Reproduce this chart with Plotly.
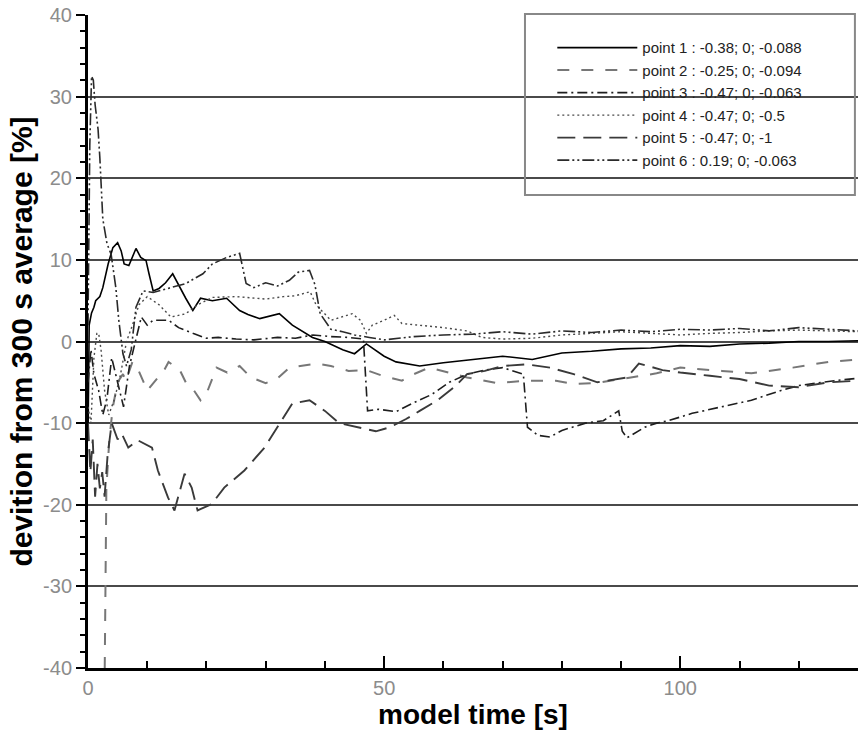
import plotly.graph_objects as go

# ---------------- data ----------------
labels = [
    "point 1 : -0.38; 0; -0.088",
    "point 2 : -0.25; 0; -0.094",
    "point 3 : -0.47; 0; -0.063",
    "point 4 : -0.47; 0; -0.5",
    "point 5 : -0.47; 0; -1",
    "point 6 : 0.19; 0; -0.063",
]

x1 = [0, 0.2, 0.6, 1.0, 1.3, 2.0, 2.5, 3.4, 4.2, 5.0, 5.6, 6.1, 6.9, 8.1, 8.9, 9.8, 10.3, 11.0, 12.0, 13.1,
      14.3, 15.3, 16.5, 17.7, 19.0, 21.0, 23.4, 25.6, 27.0, 29.0, 32.3, 34.5, 37.9, 40, 43, 45, 47, 50, 52,
      56, 60, 65, 70, 75, 80, 85, 90, 95, 100, 105, 110, 115, 120, 125, 130]
y1 = [-12, 2, 3.5, 4.2, 5, 5.5, 6.6, 9.5, 11.5, 12.1, 11.1, 9.5, 9.3, 11.4, 10.3, 9.9, 8.3, 6.2, 6.5, 7.2,
      8.3, 6.9, 5.3, 3.8, 5.3, 5.0, 5.3, 3.8, 3.3, 2.8, 3.4, 2.0, 0.5, 0, -1, -1.5, -0.3, -1.8, -2.5,
      -3, -2.6, -2.2, -1.8, -2.2, -1.4, -1.2, -0.9, -0.8, -0.5, -0.6, -0.3, -0.2, 0, 0, 0.1]

x2 = [2.75, 3.1, 3.6, 4.2, 5.0, 5.9, 6.4, 7.5, 8.5, 10, 11.7, 12.5, 13.6, 15.5, 16.5, 17.7, 19.0, 20.0,
      21.7, 23.5, 25.6, 27.5, 30, 32, 34, 36, 38.5, 41, 44, 47, 49.7, 53, 55, 57.6, 61, 64, 69, 74, 79,
      82, 85.7, 90, 96, 100, 104, 107, 112, 116, 119, 125, 130]
y2 = [-46, -18, -12, -8, -5, -4, -4.8, -2.5, -3.5, -6, -4.5, -4, -2.5, -3.5, -5, -5.8, -7.2, -6.4,
      -3.2, -3.8, -3, -4.4, -5.1, -4.5, -3.2, -3.0, -2.7, -3.0, -3.6, -3.5, -4.2, -4.8, -4.0, -3.2, -3.8,
      -4.4, -5.1, -4.8, -4.8, -5.2, -5.1, -4.6, -3.9, -3.2, -3.4, -3.6, -3.9, -3.5, -3.2, -2.5, -2.2]

x3 = [0, 0.5, 1, 1.8, 2.5, 3.2, 4, 5, 6, 7, 8, 9, 10, 11, 13.6, 15.3, 17.7, 19.9, 22, 25, 28, 32, 35,
      38, 41, 44, 46.5, 47.2, 49, 52, 55, 58, 61, 64, 67, 70, 73.5, 74.2, 76, 78, 80, 84, 87, 89.6, 90.2,
      91, 94, 96, 98, 102, 107, 112, 117, 120, 126, 130]
y3 = [-5, -1, -4, -6, -9, -7, -2, -5, -8, -3, 0, 3, 2, 2.6, 2.6, 1.7, 1.0, 0.4, 0.5, 0.3, 0.2, 0.5, 0.4,
      0.8, 0.6, 0.5, 0.3, -8.5, -8.3, -8.6, -7.5, -6.5, -5, -4, -3.5, -3.2, -4, -10.5, -11.5, -11.7,
      -10.9, -10, -9.7, -8.5, -11, -11.8, -10.5, -10, -9.7, -8.8, -8, -7.2, -6, -5.4, -4.8, -4.5]

x4 = [0, 0.5, 1.0, 1.5, 1.8, 2.2, 2.8, 3.5, 4.5, 5.5, 6.5, 7.5, 8.6, 10, 12, 14, 16.5, 18.5, 21, 25,
      30, 33, 35, 37.5, 38.5, 41, 44.6, 46, 47, 48, 50, 51.7, 53, 56, 60, 64, 66.5, 70, 75, 80, 85, 90,
      95, 100, 105, 110, 115, 120, 125, 130]
y4 = [-8, -10, -2, 1, 1, -1, -6, -9, -7, -4, 0, 2, 4.5, 5.5, 4.5, 3, 3.4, 4.5, 5.4, 5.5,
      5.2, 5.5, 5.6, 6.1, 4.5, 2.6, 3.4, 2.6, 1.0, 2.0, 2.6, 3.2, 2.2, 2.0, 1.7, 1.3, 0.5, 0.3, 0.4, 0.8,
      1.0, 1.2, 1.0, 0.8, 1.0, 1.1, 1.3, 1.4, 1.3, 1.2]

x5 = [0, 0.4, 0.8, 1.2, 1.6, 2.0, 2.4, 2.8, 3.3, 4, 5, 5.7, 6.8, 8.4, 10.8, 11.8, 13.5, 14.6, 16.3,
      17.5, 18.5, 20.9, 23, 26.4, 29.8, 32.7, 34.5, 37.4, 40, 42.4, 45, 48.6, 51, 53.7, 56, 59, 62, 64,
      67, 70, 74, 78, 82, 86, 91, 93, 97, 100, 105, 110, 115, 120, 125, 130]
y5 = [-10, -16, -12, -19, -15, -18, -16, -19, -14, -10, -12, -11.3, -13, -12.1, -13, -15.8, -19.1,
      -20.7, -16.2, -17.9, -20.7, -19.9, -17.9, -15.8, -13, -9.7, -7.6, -7.2, -8.5, -10, -10.4, -11,
      -10.5, -9.5, -8.5, -7.2, -5.5, -4, -3.6, -3, -2.8, -3.2, -4, -5, -4.4, -2.7, -3.5, -3.8, -4.2,
      -4.6, -5.4, -5.6, -5.0, -4.8]

x6 = [0, 0.3, 0.6, 0.9, 1.2, 1.7, 2.0, 2.5, 3.2, 3.9, 4.7, 5.2, 5.9, 6.5, 7.3, 8.1, 9.3, 11, 13.5,
      16.5, 19.4, 21, 23.4, 25.6, 26.7, 28, 30, 32, 34, 35.5, 37.4, 38.3, 39.2, 41, 43, 45, 47.5, 50,
      55, 60, 65, 70, 75, 80, 85, 90, 95, 100, 105, 110, 115, 120, 125, 130]
y6 = [2, 24, 32.5, 32, 29, 26, 22.5, 15, 12, 10.7, 6.6, 2.6, -1.5, -3, -1, 4.2, 6.2, 6, 6.5,
      7.1, 8.3, 9.5, 10.3, 10.8, 7.1, 6.6, 7.2, 6.8, 7.5, 8.5, 8.7, 7.0, 3.4, 1.5, 1.2, 0.8, 0.5, 0.2,
      0.6, 0.8, 0.9, 1.2, 0.9, 1.3, 1.1, 1.4, 1.2, 1.5, 1.4, 1.6, 1.3, 1.7, 1.5, 1.3]

y_ticks = [-40, -30, -20, -10, 0, 10, 20, 30, 40]
y_ticktext = ["-40", "-30", "-20", "-10", "0", "10", "20", "30", "40"]
x_ticks = [0, 50, 100]
x_ticktext = ["0", "50", "100"]

# ---------------- styles ----------------
xs = [x1, x2, x3, x4, x5, x6]
ys = [y1, y2, y3, y4, y5, y6]
colors = ["#000000", "#777777", "#1e1e1e", "#4a4a4a", "#3a3a3a", "#2a2a2a"]
dashes = ["solid", "12px,12px", "10px,4px,2px,4px", "2px,3px", "18px,8px", "12px,3px,2px,3px,2px,3px"]
widths = [1.6, 2.0, 1.6, 1.4, 1.9, 1.6]

fig = go.Figure()
for i in range(6):
    fig.add_trace(go.Scatter(
        x=xs[i], y=ys[i], mode="lines", name=labels[i],
        line=dict(color=colors[i], dash=dashes[i], width=widths[i]),
    ))

font_family = "Liberation Sans, Arial, sans-serif"

fig.update_layout(
    width=858, height=733,
    margin=dict(l=88, r=0, t=15, b=65),
    paper_bgcolor="white", plot_bgcolor="white",
    showlegend=True,
    legend=dict(
        x=0.603, y=0.975, xanchor="left", yanchor="top",
        bgcolor="rgba(0,0,0,0)", borderwidth=0,
        font=dict(family=font_family, size=15, color="#222222"),
        itemwidth=80,
    ),
    shapes=[dict(
        type="rect", xref="paper", yref="paper",
        x0=0.5675, x1=0.996, y0=0.7243, y1=1.0015,
        line=dict(color="#888888", width=2), fillcolor="rgba(0,0,0,0)",
    )],
)

fig.update_xaxes(
    range=[0, 130],
    tickmode="array", tickvals=x_ticks, ticktext=x_ticktext,
    ticks="inside", ticklen=12, tickwidth=2, tickcolor="#000000",
    minor=dict(dtick=10, tick0=0, ticks="inside", ticklen=7, tickwidth=1.5, tickcolor="#000000", showgrid=False),
    showgrid=False, zeroline=False,
    showline=True, linecolor="#000000", linewidth=3,
    tickfont=dict(family=font_family, size=20, color="#8c8c8c"),
    title=dict(text="<b>model time [s]</b>", font=dict(family=font_family, size=28, color="#000000"), standoff=2),
)
fig.update_yaxes(
    range=[-40, 40],
    tickmode="array", tickvals=y_ticks, ticktext=y_ticktext,
    ticks="outside", ticklen=9, tickwidth=2, tickcolor="#000000",
    minor=dict(dtick=2, tick0=0, ticks="outside", ticklen=5, tickwidth=1.5, tickcolor="#000000", showgrid=False),
    showgrid=True, gridcolor="#4a4a4a", gridwidth=2, zeroline=False,
    showline=True, linecolor="#000000", linewidth=3,
    tickfont=dict(family=font_family, size=20, color="#8c8c8c"),
    title=dict(text="<b>devition from 300 s average [%]</b>", font=dict(family=font_family, size=30, color="#000000"), standoff=2),
)

fig.write_html("out.html")
